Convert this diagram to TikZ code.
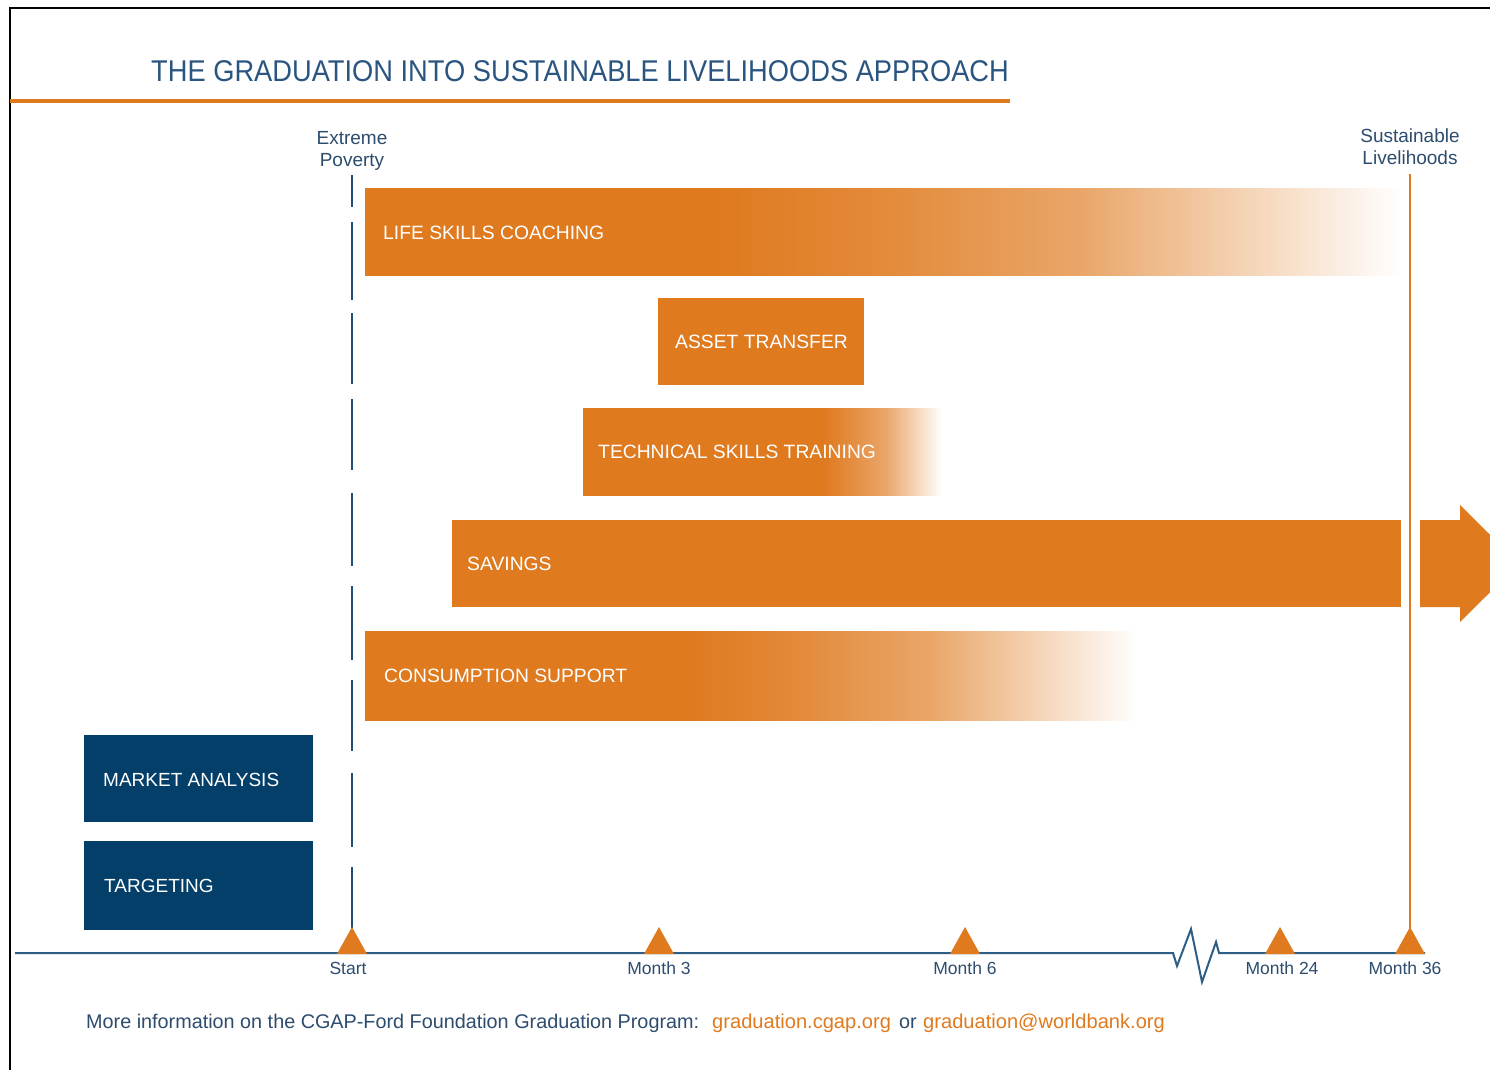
\documentclass[tikz,border=0pt]{standalone}
\usepackage{fontspec}
\setmainfont{Liberation Sans}
\definecolor{org}{HTML}{DF7A1F}
\definecolor{navy}{HTML}{033F69}
\definecolor{ttl}{HTML}{2A5580}
\definecolor{lbl}{HTML}{2D4C6E}
\definecolor{axisblue}{HTML}{2E5E85}
\definecolor{dashblue}{HTML}{1F4E79}
\pgfdeclarehorizontalshading{lscfade}{100bp}{color(0bp)=(org); color(42bp)=(org); color(50bp)=(org!88!white); color(59.5bp)=(org!67!white); color(75bp)=(white); color(100bp)=(white)}
\pgfdeclarehorizontalshading{tstfade}{100bp}{color(0bp)=(org); color(58.5bp)=(org); color(67.2bp)=(org!67!white); color(75bp)=(white); color(100bp)=(white)}
\pgfdeclarehorizontalshading{csfade}{100bp}{color(0bp)=(org); color(46bp)=(org); color(53bp)=(org!88!white); color(61.6bp)=(org!67!white); color(75bp)=(white); color(100bp)=(white)}
\tikzset{
  barfill/.style={fill=org},
  barlabel/.style={anchor=west, inner sep=0pt, text=white, font=\fontsize{19.3}{22}\selectfont},
  navylabel/.style={anchor=west, inner sep=0pt, text=white, font=\fontsize{19}{22}\selectfont},
  navybox/.style={fill=navy},
  toplabel/.style={inner sep=0pt, align=center, text=lbl, font=\fontsize{19}{22}\selectfont},
  ticklabel/.style={inner sep=0pt, text=lbl, font=\fontsize{17.5}{20}\selectfont},
  footlabel/.style={anchor=base west, inner sep=0pt, text=lbl, font=\fontsize{19.8}{22}\selectfont},
  urllabel/.style={anchor=base west, inner sep=0pt, text=org, font=\fontsize{20.1}{22}\selectfont},
  marker/.style={fill=org},
}
\begin{document}
\begin{tikzpicture}[x=1pt,y=-1pt]
\useasboundingbox (0,0) rectangle (1490,1069);
\clip (0,0) rectangle (1490,1069);
\fill[white] (0,0) rectangle (1490,1069);
% frame
\draw[black, line width=2pt] (10,1080) -- (10,8) -- (1500,8);
% title
\node[anchor=base west, inner sep=0pt, text=ttl, font=\fontsize{30}{34}\selectfont] (title) at (151,81) {\scalebox{0.909}[1]{THE GRADUATION INTO SUSTAINABLE LIVELIHOODS APPROACH}};
\draw[org, line width=4pt] (10,100.5) -- (1010,100.5);
% top labels
\node[toplabel] (extreme) at (352,151) {Extreme\\Poverty};
\node[toplabel] (sustain) at (1410,147) {Sustainable\\Livelihoods};
% vertical lines
\coordinate (dtop) at (352,175);
\coordinate (dbot) at (352,928);
\draw[dashblue, line width=2.5pt, dash pattern=on 32pt off 15pt on 78pt off 13pt on 71pt off 15pt on 71pt off 23pt on 73pt off 20pt on 74pt off 20pt on 71pt off 22pt on 74pt off 20pt on 80pt] (dtop) -- (dbot);
\coordinate (otop) at (1410,174);
\coordinate (obot) at (1410,940);
\draw[org, line width=2pt] (otop) -- (obot);
% bars
\shade[shading=lscfade] (365,188) rectangle (1402,275);
\node[barlabel] (lsc) at (383,233) {LIFE SKILLS COACHING};
\fill[barfill] (658,298) rectangle (864,385);
\node[barlabel] (at) at (675,341.5) {ASSET TRANSFER};
\shade[shading=tstfade] (583,408) rectangle (942,495);
\node[barlabel] (tst) at (598,451.5) {TECHNICAL SKILLS TRAINING};
\fill[barfill] (452,520) rectangle (1401,607);
\node[barlabel] (sav) at (467,563.5) {SAVINGS};
\fill[barfill] (1420,520) -- (1460,520) -- (1460,505) -- (1519,563.5) -- (1460,622) -- (1460,607) -- (1420,607) -- cycle;
\shade[shading=csfade] (365,631) rectangle (1138,720);
\node[barlabel] (cs) at (384,675.5) {CONSUMPTION SUPPORT};
% navy boxes
\fill[navybox] (84,735) rectangle (313,822);
\node[navylabel] (ma) at (103,779.5) {MARKET ANALYSIS};
\fill[navybox] (84,841) rectangle (313,930);
\node[navylabel] (tg) at (104,885.5) {TARGETING};
% timeline
\coordinate (tl0) at (15,953);
\coordinate (tl1) at (1173,953);
\coordinate (tl2) at (1219,953);
\coordinate (tl3) at (1425,953);
\draw[axisblue, line width=2pt, line join=miter] (tl0) -- (tl1) -- (1177,966) -- (1191,929) -- (1202,982) -- (1216,942) -- (tl2) -- (tl3);
% markers
\foreach \n/\x in {m0/352, m3/659, m6/965, m24/1280, m36/1410}{
  \coordinate (\n) at (\x,954);
  \fill[marker] (\x-15,954) -- (\x,927) -- (\x+15,954) -- cycle;
}
\node[ticklabel] (ls) at (348,968) {Start};
\node[ticklabel] (l3) at (659,968) {Month 3};
\node[ticklabel] (l6) at (965,968) {Month 6};
\node[ticklabel] (l24) at (1282,968) {Month 24};
\node[ticklabel] (l36) at (1405,968) {Month 36};
% footer
\node[footlabel] (foot) at (86,1028) {More information on the CGAP-Ford Foundation Graduation Program:};
\node[urllabel] (url1) at (712,1028) {graduation.cgap.org};
\node[footlabel] (or) at (899,1028) {or};
\node[urllabel] (url2) at (923,1028) {graduation@worldbank.org};
\end{tikzpicture}
\end{document}
